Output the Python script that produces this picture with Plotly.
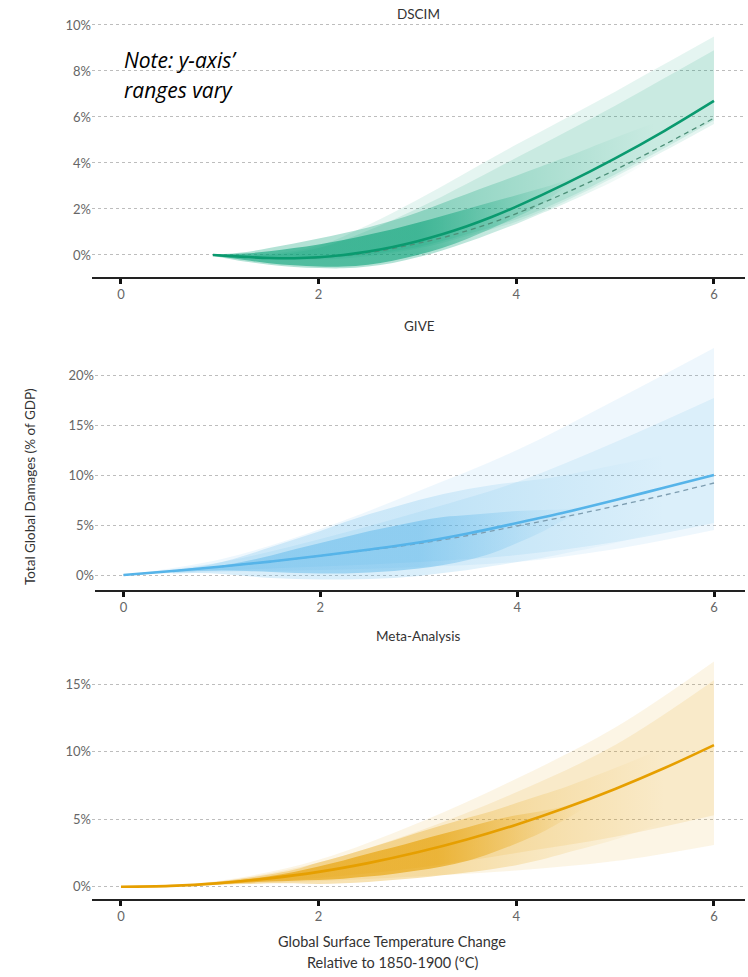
import plotly.graph_objects as go

W, H = 748, 977
FONT = "Lato"

# ---------------- DSCIM ----------------
dscim_line_t = [0.93, 1.25, 1.5, 1.75, 2.0, 2.25, 2.5, 2.75, 3.0, 3.25, 3.5, 3.75, 4.0, 4.5, 5.0, 5.5, 6.0]
dscim_line = [0.0, -0.08, -0.13, -0.14, -0.1, 0.0, 0.15, 0.35, 0.6, 0.9, 1.25, 1.65, 2.1, 3.1, 4.2, 5.4, 6.7]
dscim_dash = [0.0, -0.08, -0.13, -0.14, -0.11, -0.02, 0.1, 0.28, 0.5, 0.75, 1.05, 1.4, 1.8, 2.7, 3.7, 4.8, 5.95]

dscim_band_t = [0.93, 1.5, 2.0, 2.5, 3.0, 3.5, 4.0, 4.5, 5.0, 5.5, 6.0]
dscim_outer_hi = [0.0, 0.05, 0.4, 1.3, 2.4, 3.6, 4.8, 5.95, 7.1, 8.3, 9.5]
dscim_inner_hi = [0.0, 0.0, 0.3, 1.06, 2.02, 3.1, 4.23, 5.35, 6.49, 7.69, 8.9]
dscim_inner_lo = [0.0, -0.15, -0.15, 0.02, 0.35, 0.9, 1.55, 2.45, 3.5, 4.65, 5.85]
dscim_outer_lo = [0.0, -0.18, -0.2, -0.05, 0.28, 0.82, 1.45, 2.35, 3.4, 4.53, 5.7]

dscim_cloud_t = [0.95, 1.25, 1.5, 1.75, 2.0, 2.25, 2.5, 2.75, 3.0, 3.25, 3.5, 3.75, 4.0, 4.25, 4.5, 5.0, 5.5]
dscim_sparse_hi = [0.02, 0.12, 0.3, 0.5, 0.72, 0.95, 1.2, 1.5, 1.85, 2.25, 2.65, 3.05, 3.45, 3.85, 4.25, 5.1, 5.9]
dscim_sparse_lo = [-0.05, -0.28, -0.42, -0.52, -0.57, -0.58, -0.5, -0.35, -0.1, 0.2, 0.55, 0.95, 1.35, 1.8, 2.25, 3.25, 4.45]
dscim_dense_hi = [0.01, 0.06, 0.16, 0.3, 0.46, 0.65, 0.88, 1.12, 1.4, 1.7, 2.0, 2.3, 2.6, 2.9, 3.25, 4.3, 5.45]
dscim_dense_lo = [-0.03, -0.22, -0.36, -0.45, -0.5, -0.5, -0.42, -0.25, 0.0, 0.3, 0.7, 1.15, 1.65, 2.2, 2.95, 4.1, 5.35]

# ---------------- GIVE ----------------
give_line_t = [0, 0.5, 1, 1.5, 2, 2.5, 3, 3.5, 4, 4.5, 5, 5.5, 6]
give_line = [0, 0.4, 0.85, 1.35, 1.93, 2.55, 3.25, 4.15, 5.2, 6.3, 7.5, 8.75, 10.0]
give_dash = [0, 0.4, 0.85, 1.35, 1.92, 2.5, 3.15, 3.95, 4.9, 5.85, 6.9, 8.0, 9.2]

give_band_t = [0, 1, 2, 3, 4, 5, 6]
give_outer_hi = [0, 1.6, 4.6, 8.4, 12.5, 17.5, 22.7]
give_inner_hi = [0, 1.3, 3.6, 6.3, 9.3, 13.3, 17.7]
give_inner_lo = [0, 0.45, 0.85, 1.3, 2.0, 3.3, 5.2]
give_outer_lo = [0, 0.3, 0.5, 0.8, 1.3, 2.6, 4.5]

give_cloud_t = [0.5, 0.75, 1.0, 1.25, 1.5, 1.75, 2.0, 2.25, 2.5, 2.75, 3.0, 3.25, 3.5, 3.75, 4.0, 4.25, 4.5, 5.0, 5.5]
give_sparse_hi = [0.45, 0.8, 1.3, 2.0, 2.8, 3.6, 4.4, 5.3, 6.1, 6.8, 7.5, 8.1, 8.6, 9.0, 9.3, 9.6, 10.0, 11.0, 12.0]
give_sparse_lo = [0.15, 0.2, 0.1, -0.1, -0.3, -0.4, -0.45, -0.45, -0.4, -0.3, -0.1, 0.2, 0.5, 0.9, 1.3, 1.7, 2.2, 3.2, 4.5]
give_dense_hi = [0.42, 0.62, 0.95, 1.4, 1.95, 2.6, 3.2, 3.8, 4.4, 4.9, 5.4, 5.8, 6.0, 6.2, 6.4, 6.5, 6.6, 7.6, 8.8]
give_dense_lo = [0.32, 0.4, 0.45, 0.4, 0.3, 0.2, 0.15, 0.15, 0.25, 0.4, 0.65, 1.0, 1.5, 2.2, 3.2, 4.3, 5.6, 7.4, 8.7]

# ---------------- Meta-Analysis ----------------
meta_line_t = [0, 0.5, 1, 1.5, 2, 2.5, 3, 3.5, 4, 4.5, 5, 5.5, 6]
meta_line = [0, 0.06, 0.27, 0.62, 1.1, 1.75, 2.55, 3.5, 4.6, 5.85, 7.25, 8.8, 10.5]

meta_band_t = [0, 1, 2, 3, 4, 5, 6]
meta_outer_hi = [0, 0.45, 2.0, 4.7, 8.0, 11.8, 16.7]
meta_inner_hi = [0, 0.4, 1.8, 4.1, 7.0, 10.5, 15.3]
meta_inner_lo = [0, 0.2, 0.65, 1.4, 2.5, 3.7, 5.3]
meta_outer_lo = [0, 0.15, 0.4, 0.75, 1.2, 1.9, 3.1]

meta_cloud_t = [0.75, 1.0, 1.25, 1.5, 1.75, 2.0, 2.25, 2.5, 2.75, 3.0, 3.25, 3.5, 3.75, 4.0, 4.25, 4.5, 5.0, 5.5]
meta_sparse_hi = [0.2, 0.38, 0.62, 0.9, 1.25, 1.8, 2.3, 2.85, 3.4, 4.0, 4.55, 5.1, 5.6, 6.2, 6.8, 7.4, 8.8, 10.3]
meta_sparse_lo = [0.1, 0.15, 0.2, 0.25, 0.25, 0.2, 0.25, 0.35, 0.5, 0.65, 0.85, 1.05, 1.3, 1.6, 2.0, 2.5, 3.5, 4.8]
meta_dense_hi = [0.18, 0.33, 0.53, 0.78, 1.1, 1.5, 1.95, 2.45, 2.9, 3.4, 3.9, 4.4, 4.9, 5.3, 5.6, 6.0, 7.4, 8.9]
meta_dense_lo = [0.12, 0.2, 0.3, 0.38, 0.45, 0.5, 0.6, 0.75, 0.95, 1.2, 1.5, 1.9, 2.5, 3.2, 4.0, 5.0, 7.1, 8.7]

x_ticks = [0, 2, 4, 6]


def fx(px):
    return px / W


def fy(py):
    return 1 - py / H


fig = go.Figure()


def band(t, lo, hi, rgba, xa, ya):
    fig.add_trace(go.Scatter(x=t, y=lo, mode="lines", line=dict(width=0, shape="spline"),
                             xaxis=xa, yaxis=ya, hoverinfo="skip"))
    fig.add_trace(go.Scatter(x=t, y=hi, mode="lines", line=dict(width=0, shape="spline"),
                             fill="tonexty", fillcolor=rgba, xaxis=xa, yaxis=ya, hoverinfo="skip"))


def cloud(t, lo, hi, rgb, xa, ya, alpha, fade_from, fade_to):
    """Point-cloud envelope, fading out along the temperature axis."""
    r, g, b = rgb
    span = t[-1] - t[0]
    f1 = (fade_from - t[0]) / span
    f2 = (fade_to - t[0]) / span
    scale = [[0, f"rgba({r},{g},{b},{alpha})"],
             [f1, f"rgba({r},{g},{b},{alpha})"],
             [f2, f"rgba({r},{g},{b},0)"],
             [1, f"rgba({r},{g},{b},0)"]]
    fig.add_trace(go.Scatter(x=t, y=lo, mode="lines", line=dict(width=0, shape="spline"),
                             xaxis=xa, yaxis=ya, hoverinfo="skip"))
    fig.add_trace(go.Scatter(x=t, y=hi, mode="lines", line=dict(width=0, shape="spline"),
                             fill="tonexty",
                             fillgradient=dict(type="horizontal", colorscale=scale,
                                               start=t[0], stop=t[-1]),
                             xaxis=xa, yaxis=ya, hoverinfo="skip"))


def curve(t, y, color, xa, ya, width=2.6, dash=None):
    fig.add_trace(go.Scatter(x=t, y=y, mode="lines",
                             line=dict(color=color, width=width, shape="spline", dash=dash),
                             xaxis=xa, yaxis=ya, hoverinfo="skip"))


panels = [
    dict(xa="x", ya="y", rgb=(0, 158, 115), line="#0a9a6f", dashc="#4d8f78",
         bt=dscim_band_t, olo=dscim_outer_lo, ohi=dscim_outer_hi, ilo=dscim_inner_lo, ihi=dscim_inner_hi,
         ct=dscim_cloud_t, slo=dscim_sparse_lo, shi=dscim_sparse_hi, dlo=dscim_dense_lo, dhi=dscim_dense_hi,
         lt=dscim_line_t, ly=dscim_line, dy=dscim_dash,
         sa=0.30, da=0.55, fade=(3.2, 5.4), dfade=(3.0, 4.6)),
    dict(xa="x2", ya="y2", rgb=(86, 180, 233), line="#56b4e9", dashc="#7d9db0",
         bt=give_band_t, olo=give_outer_lo, ohi=give_outer_hi, ilo=give_inner_lo, ihi=give_inner_hi,
         ct=give_cloud_t, slo=give_sparse_lo, shi=give_sparse_hi, dlo=give_dense_lo, dhi=give_dense_hi,
         lt=give_line_t, ly=give_line, dy=give_dash,
         sa=0.22, da=0.45, fade=(3.0, 5.5), dfade=(3.0, 4.7)),
    dict(xa="x3", ya="y3", rgb=(230, 159, 0), line="#e69f00", dashc=None,
         bt=meta_band_t, olo=meta_outer_lo, ohi=meta_outer_hi, ilo=meta_inner_lo, ihi=meta_inner_hi,
         ct=meta_cloud_t, slo=meta_sparse_lo, shi=meta_sparse_hi, dlo=meta_dense_lo, dhi=meta_dense_hi,
         lt=meta_line_t, ly=meta_line, dy=None,
         sa=0.30, da=0.6, fade=(3.2, 5.5), dfade=(3.2, 4.7)),
]

for p in panels:
    r, g, b = p["rgb"]
    band(p["bt"], p["olo"], p["ohi"], f"rgba({r},{g},{b},0.10)", p["xa"], p["ya"])
    band(p["bt"], p["ilo"], p["ihi"], f"rgba({r},{g},{b},0.12)", p["xa"], p["ya"])
    cloud(p["ct"], p["slo"], p["shi"], p["rgb"], p["xa"], p["ya"], p["sa"], *p["fade"])
    cloud(p["ct"], p["dlo"], p["dhi"], p["rgb"], p["xa"], p["ya"], p["da"], *p["dfade"])
    if p["dy"] is not None:
        curve(p["lt"], p["dy"], p["dashc"], p["xa"], p["ya"], width=1.3, dash="5px,4px")
    curve(p["lt"], p["ly"], p["line"], p["xa"], p["ya"])

tickfont = dict(family=FONT, size=13, color="#666666")


def yaxis_style(vals):
    return dict(showgrid=True, gridcolor="#bdbdbd", gridwidth=1, griddash="3px,3px",
                zeroline=False, showline=False, ticks="", tickfont=tickfont,
                tickmode="array", tickvals=vals, ticktext=[f"{v}%" for v in vals])


xcommon = dict(showgrid=False, zeroline=False, showline=True, linecolor="#222222", linewidth=1.5,
               ticks="outside", ticklen=5, tickwidth=2.5, tickcolor="#111111",
               tickvals=x_ticks, tickfont=tickfont)

fig.update_layout(
    width=W, height=H, margin=dict(l=0, r=0, t=0, b=0),
    paper_bgcolor="white", plot_bgcolor="white", showlegend=False,
    font=dict(family=FONT),
    xaxis=dict(domain=[fx(92), fx(745)], range=[-0.293, 6.314], anchor="y", **xcommon),
    yaxis=dict(domain=[fy(277), fy(16)], range=[-0.957, 10.39], anchor="x",
               **yaxis_style([0, 2, 4, 6, 8, 10])),
    xaxis2=dict(domain=[fx(95), fx(745)], range=[-0.29, 6.315], anchor="y2", **xcommon),
    yaxis2=dict(domain=[fy(590), fy(340)], range=[-1.5, 23.5], anchor="x2",
                **yaxis_style([0, 5, 10, 15, 20])),
    xaxis3=dict(domain=[fx(92), fx(745)], range=[-0.293, 6.314], anchor="y3", **xcommon),
    yaxis3=dict(domain=[fy(899), fy(650)], range=[-0.91, 17.55], anchor="x3",
                **yaxis_style([0, 5, 10, 15])),
)

title_font = dict(family=FONT, size=13.5, color="#333333")
annotations = [
    dict(text="DSCIM", x=fx(418), y=fy(14)),
    dict(text="GIVE", x=fx(419), y=fy(326)),
    dict(text="Meta-Analysis", x=fx(418), y=fy(636)),
]
for a in annotations:
    fig.add_annotation(xref="paper", yref="paper", xanchor="center", yanchor="middle",
                       showarrow=False, font=title_font, **a)

axis_title_font = dict(family=FONT, size=14.5, color="#333333")
fig.add_annotation(text="Global Surface Temperature Change", x=fx(392), y=fy(941),
                   xref="paper", yref="paper", showarrow=False, font=axis_title_font,
                   xanchor="center", yanchor="middle")
fig.add_annotation(text="Relative to 1850-1900 (°C)", x=fx(392), y=fy(962),
                   xref="paper", yref="paper", showarrow=False, font=axis_title_font,
                   xanchor="center", yanchor="middle")
fig.add_annotation(text="Total Global Damages (% of GDP)", x=fx(30), y=fy(487),
                   xref="paper", yref="paper", showarrow=False, textangle=-90,
                   font=dict(family=FONT, size=13.5, color="#333333"),
                   xanchor="center", yanchor="middle")

note_font = dict(family="Open Sans", size=21, color="#000000", style="italic")
fig.add_annotation(text="Note: y-axis’", x=fx(122), y=fy(60), xref="paper", yref="paper",
                   showarrow=False, font=note_font, xanchor="left", yanchor="middle")
fig.add_annotation(text="ranges vary", x=fx(122), y=fy(90), xref="paper", yref="paper",
                   showarrow=False, font=note_font, xanchor="left", yanchor="middle")

fig.write_html("out.html")
